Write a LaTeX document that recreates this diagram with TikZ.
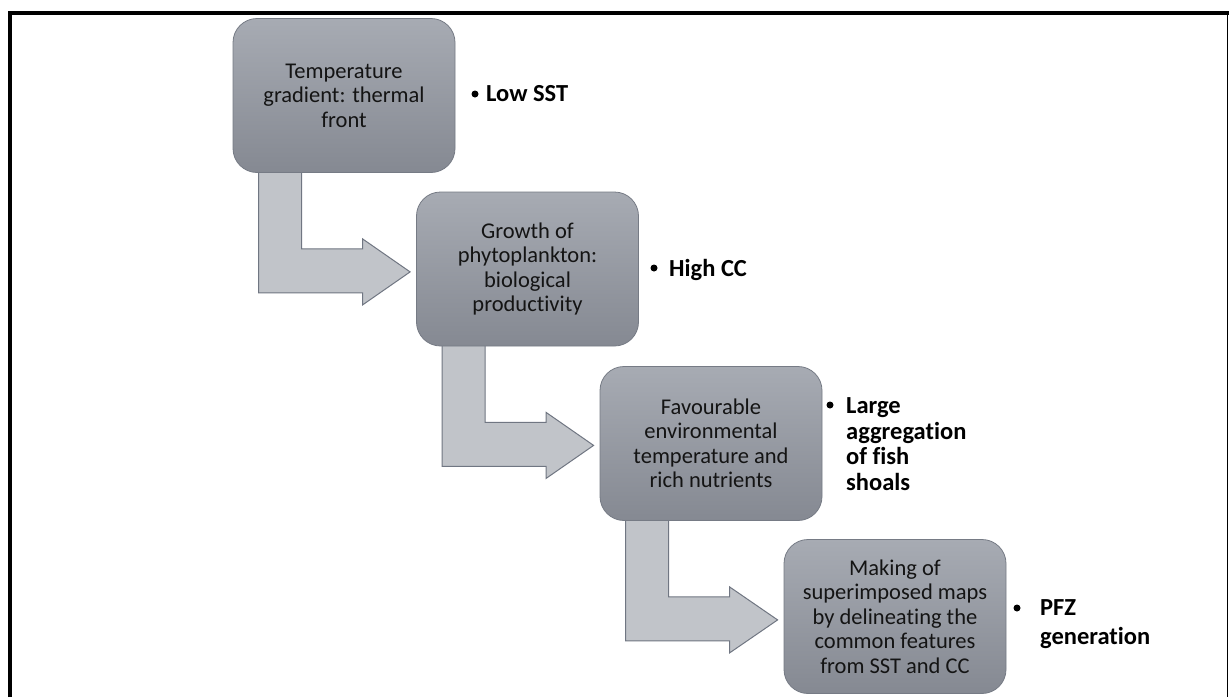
\documentclass[tikz,border=0pt]{standalone}
\usepackage{fontspec}
\setmainfont{Carlito}[Ligatures=NoCommon]
\usetikzlibrary{calc,backgrounds}
\definecolor{boxtop}{RGB}{167,171,179}
\definecolor{boxbot}{RGB}{133,137,146}
\definecolor{boxline}{RGB}{118,123,133}
\definecolor{arrowfill}{RGB}{193,196,201}
\definecolor{arrowline}{RGB}{112,118,130}
\definecolor{ink}{RGB}{20,20,20}
\begin{document}
\begin{tikzpicture}[x=1pt,y=-1pt,
  stage/.style={rectangle, rounded corners=24pt, draw=boxline, line width=0.8pt,
    top color=boxtop, bottom color=boxbot, minimum width=222pt, minimum height=154pt,
    align=center, text=ink, font=\fontsize{22.5}{24.5}\selectfont, inner sep=0pt},
  bent/.style={fill=arrowfill, draw=arrowline, line width=1pt, line join=miter},
  dot/.style={circle, fill=black, inner sep=0pt, minimum size=7pt},
  note/.style={anchor=west, align=left, inner sep=0pt, text=black,
    font=\bfseries\fontsize{24.5}{25.5}\selectfont}
]
\useasboundingbox (0,0) rectangle (1229,697);

% process stages
\node[stage] (b1) at (344,95.5) {Temperature\\gradient: thermal\\front};
\node[stage] (b2) at (527.5,269) {Growth of\\phytoplankton:\\biological\\productivity};
\node[stage] (b3) at (711,443.5) {Favourable\\environmental\\temperature and\\rich nutrients};
\node[stage] (b4) at (895,616.5) {Making of\\superimposed maps\\by delineating the\\common features\\from SST and CC};

% outcomes
\node[dot] (d1) at (475,94) {};
\node[note] (l1) at (486,94) {Low SST};
\node[dot] (d2) at (654,268) {};
\node[note] (l2) at (669,270) {High CC};
\node[dot] (d3) at (830,405) {};
\node[note] (l3) at (846,444) {Large\\aggregation\\of fish\\shoals};
\node[dot] (d4) at (1017,608) {};
\node[note, font=\bfseries\fontsize{24.5}{29}\selectfont] (l4) at (1040,624) {PFZ\\generation};

\begin{pgfonlayer}{background}
  \fill[white] (0,0) rectangle (1229,697);
  % bent arrows leading from one stage down to the next
  \foreach \a/\b in {b1/b2,b2/b3,b3/b4}{
    \coordinate (o) at (\a.south west);
    \coordinate (m) at ($(o)+(0,99)$);
    \draw[bent] ($(o)+(26,-3)$) -- ($(o)+(26,120)$) -- ($(o)+(130,120)$)
      -- ($(o)+(130,132)$) -- ($(m -| \b.west)+(-6,0)$) -- ($(o)+(130,66)$)
      -- ($(o)+(130,76)$) -- ($(o)+(69,76)$) -- ($(o)+(69,-3)$) -- cycle;
  }
\end{pgfonlayer}

% frame
\draw[line width=4pt, line join=miter] (9.7,697) -- (9.7,13) -- (1229,13);
\draw[line width=1.2pt] (1227.6,13) -- (1227.6,697);
\end{tikzpicture}
\end{document}
